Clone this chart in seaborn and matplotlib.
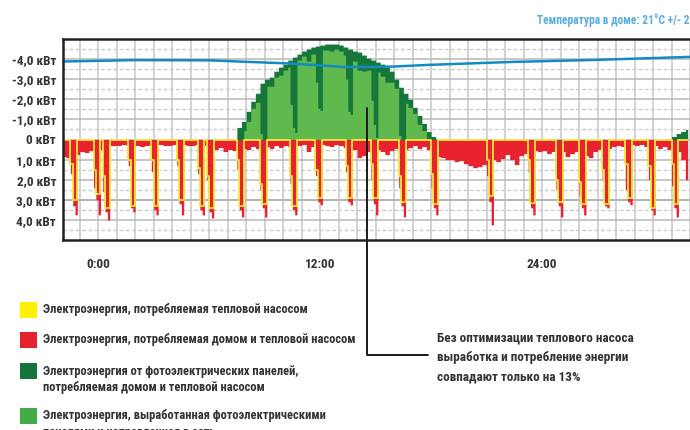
import numpy as np
import matplotlib
matplotlib.use("Agg")
import matplotlib.pyplot as plt
from matplotlib.lines import Line2D
from matplotlib.patches import Rectangle
from matplotlib import font_manager
import seaborn as sns

# ---- values ----
# house base load (kW), 15-minute steps from -2:00 to 32:00
base_load = [
    0.85, 0.90, 0.80, 0.75,   # -2h
    0.60, 0.65, 0.55, 0.60,   # -1h
    0.50, 0.35, 0.30, 0.30,   # 0h
    0.30, 0.25, 0.30, 0.35,
    0.30, 0.35, 0.30, 0.30,
    0.30, 0.25, 0.30, 0.30,
    0.25, 0.30, 0.25, 0.30,
    0.30, 0.25, 0.30, 0.30,
    0.35, 0.50, 0.40, 0.60,   # 6h
    0.50, 0.55, 0.40, 0.45,
    0.50, 0.35, 0.45, 0.30,
    0.35, 0.45, 0.30, 0.40,
    0.30, 0.35, 0.50, 0.30,
    0.25, 0.60, 0.35, 0.30,
    0.25, 0.30, 0.35, 0.25,   # 12h
    0.30, 0.40, 0.55, 0.50,
    0.90, 0.80, 0.60, 0.55,
    0.50, 0.60, 0.75, 0.55,
    0.45, 0.35, 0.50, 0.40,
    0.30, 0.45, 0.35, 0.50,
    0.75, 0.85, 0.90, 1.00,   # 18h
    1.00, 1.10, 1.05, 1.20,
    1.30, 1.40, 1.35, 1.25,
    1.15, 1.00, 1.10, 0.95,
    0.75, 1.00, 1.25, 0.80,
    0.70, 0.65, 0.55, 0.60,
    0.55, 0.70, 0.60, 0.80,   # 24h
    0.60, 0.85, 0.70, 0.60,
    0.55, 0.80, 0.90, 0.60,
    0.50, 0.40, 0.45, 0.35,
    0.30, 0.35, 0.30, 0.25,
    0.30, 0.25, 0.35, 0.30,
    0.30, 0.45, 0.35, 0.50,   # 30h
    0.55, 0.60, 1.00, 2.00,
]

# heat pump cycles: start hour, heat pump kW and house+pump kW (7.5-minute steps)
hp_events = [
    (-1.45, [1.2, 3.0, 3.0], [1.7, 3.3, 3.75]),
    (-0.20, [1.5, 2.7, 2.7], [2.4, 3.0, 3.75]),
    (0.25, [1.8, 3.4, 3.4], [2.6, 3.6, 4.00]),
    (1.60, [1.0, 3.3, 3.3], [1.3, 3.4, 3.60]),
    (2.90, [1.0, 3.3, 3.3], [1.6, 3.5, 3.75]),
    (4.20, [1.0, 3.0, 3.0], [1.3, 3.2, 3.75]),
    (5.35, [1.4, 3.3, 3.3], [1.7, 3.5, 3.75]),
    (5.85, [1.8, 3.4, 3.4], [2.0, 3.6, 3.90]),
    (7.45, [1.0, 3.3, 3.3], [1.5, 3.5, 3.85]),
    (8.80, [2.2, 3.2, 3.2], [2.5, 3.4, 3.85]),
    (10.40, [1.8, 3.3, 3.3], [2.2, 3.5, 3.75]),
    (11.80, [1.5, 2.9, 2.9], [1.8, 3.1, 3.25]),
    (13.35, [1.3, 2.9, 2.9], [1.6, 3.1, 3.25]),
    (14.75, [1.2, 2.9, 2.9], [2.0, 3.2, 3.75]),
    (16.30, [1.8, 3.1, 3.1], [2.4, 3.3, 3.85]),
    (17.95, [1.7, 3.2, 3.2], [2.4, 3.4, 3.75]),
    (20.95, [1.0, 2.8, 2.8], [1.8, 3.1, 4.25]),
    (23.25, [1.0, 3.15, 3.15], [1.6, 3.4, 3.75]),
    (24.75, [2.0, 3.1, 3.1], [2.5, 3.3, 3.85]),
    (26.00, [2.1, 3.2, 3.2], [2.8, 3.4, 3.75]),
    (27.25, [1.5, 3.2, 3.2], [2.0, 3.3, 3.40]),
    (28.55, [1.2, 2.9, 2.9], [2.5, 3.1, 3.25]),
    (29.75, [1.3, 3.4, 3.4], [2.0, 3.5, 3.75]),
    (31.05, [1.2, 3.2, 3.2], [2.3, 3.4, 3.85]),
]

# PV production (kW), 15-minute steps
pv_day1_start = 7.25
pv_day1 = [
    0.0, 0.6, 0.9, 1.4, 1.9, 2.3, 2.8, 3.0, 3.1, 3.4, 3.6, 3.75,
    3.95, 4.1, 4.25, 4.4, 4.5, 4.6, 4.65, 4.7, 4.75, 4.75, 4.75, 4.7,
    4.6, 4.5, 4.4, 4.35, 4.2, 4.05, 3.95, 3.85, 3.75, 3.6, 3.4, 3.0,
    2.6, 2.3, 2.0, 1.6, 1.2, 0.8, 0.4, 0.15, 0.0,
]
pv_day2_start = 31.0
pv_day2 = [0.15, 0.3, 0.4, 0.5]

# indoor temperature trace, drawn on the kW scale
temp_hours = [-1.9, 2.0, 6.0, 7.6, 10.4, 13.3, 14.4, 16.0, 17.8, 22.4, 26.9, 32.0]
temp_line = [-3.88, -3.95, -3.94, -3.88, -3.78, -3.61, -3.61, -3.63, -3.71, -3.86, -3.96, -4.11]

y_ticks = [-4, -3, -2, -1, 0, 1, 2, 3, 4]
y_labels = ["-4,0 кВт", "-3,0 кВт", "-2,0 кВт", "-1,0 кВт", "0 кВт",
            "1,0 кВт", "2,0 кВт", "3,0 кВт", "4,0 кВт"]
x_ticks = [0, 6, 12, 18, 24, 30]
x_labels = ["0:00", "", "12:00", "", "24:00", ""]

legend_items = [
    ("#fff200", ["Электроэнергия, потребляемая тепловой насосом"]),
    ("#e3222e", ["Электроэнергия, потребляемая домом и тепловой насосом"]),
    ("#13753a", ["Электроэнергия от фотоэлектрических панелей,",
                 "потребляемая домом и тепловой насосом"]),
    ("#43ac48", ["Электроэнергия, выработанная фотоэлектрическими",
                 "панелями и направленная в сеть"]),
]
note_lines = ["Без оптимизации теплового насоса",
              "выработка и потребление энергии",
              "совпадают только на 13%"]

# ---- build 7.5-minute series ----
step = 1 / 8
t = -2 + np.arange(len(base_load) * 2) * step
total = np.repeat(base_load, 2).astype(float)
hp = np.zeros_like(total)
for start, hp_vals, tot_vals in hp_events:
    i = int(round((start + 2) / step))
    hp[i:i + 3] = hp_vals
    total[i:i + 3] = tot_vals

pv = np.zeros_like(total)
for start, vals in [(pv_day1_start, pv_day1), (pv_day2_start, pv_day2)]:
    i = int(round((start + 2) / step))
    rep = np.repeat(vals, 2)
    pv[i:i + len(rep)] = rep[:len(pv) - i]
export = np.clip(pv - total, 0, None)

# ---- plot ----
sns.set_style("white")
installed = {f.name for f in font_manager.fontManager.ttflist}
FONT = [f for f in ["Roboto Condensed", "Liberation Sans Narrow", "Open Sans Condensed",
                    "Roboto", "DejaVu Sans"] if f in installed]
plt.rcParams["font.family"] = FONT
TXT = "#333333"

fig = plt.figure(figsize=(6.9, 4.3), dpi=100)
ax = fig.add_axes([63 / 690, 190 / 430, 627 / 690, 201 / 430])

ax.fill_between(t, 0, -pv, step="post", color="#17773b", lw=0)
ax.fill_between(t, 0, -export, step="post", color="#5fb94f", lw=0)
ax.fill_between(t, 0, total, step="post", color="#e8222f", lw=0)
sns.lineplot(x=t, y=hp, drawstyle="steps-post", color="#f2e93a", lw=1.3, ax=ax)
sns.lineplot(x=temp_hours, y=temp_line, color="#128bc4", lw=1.8, ax=ax)

ax.set_xlim(-1.9, 32.0)
ax.set_ylim(5, -5)
ax.set_xticks(x_ticks)
ax.set_xticklabels(x_labels)
ax.set_xticks(np.arange(-1, 33, 1), minor=True)
ax.set_yticks(y_ticks)
ax.set_yticklabels(y_labels)
ax.set_yticks(np.arange(-4.5, 5, 1), minor=True)
ax.set_axisbelow(True)
ax.grid(axis="x", which="both", color="#c6c6c6", lw=1.1)
ax.grid(axis="y", which="major", color="#b8b8b8", lw=1.1)
ax.grid(axis="y", which="minor", color="#c8c8c8", lw=0.9, ls=(0, (3, 2)))
ax.axhline(3, color="#8a8a8a", lw=1.1, zorder=0.5)

ax.tick_params(axis="y", which="both", length=0, pad=5, labelsize=9.5, labelcolor=TXT)
ax.tick_params(axis="x", which="major", length=5, width=1.2, color="#b0b0b0",
               pad=8, labelsize=9.5, labelcolor=TXT)
ax.tick_params(axis="x", which="minor", length=0)
for lab in ax.get_xticklabels() + ax.get_yticklabels():
    lab.set_fontweight("bold")

for side in ["left", "top", "bottom"]:
    ax.spines[side].set_color("#222222")
    ax.spines[side].set_linewidth(1.8)
ax.spines["right"].set_visible(False)

fig.text(537 / 690, 1 - 20 / 430, "Температура в доме: 21°C +/- 2°C",
         color="#5aaee2", fontsize=8.3, fontweight="bold", va="center", ha="left")

# legend
legend_y = [310, 340, 371, 416]
for (color, lines), y in zip(legend_items, legend_y):
    fig.add_artist(Rectangle((20 / 690, 1 - (y + 8) / 430), 17 / 690, 16 / 430,
                             transform=fig.transFigure, color=color, lw=0))
    for k, line in enumerate(lines):
        fig.text(43 / 690, 1 - (y + k * 16.7) / 430, line, color=TXT,
                 fontsize=9, fontweight="bold", va="center", ha="left")

# annotation
fig.add_artist(Line2D([367 / 690, 367 / 690, 428 / 690],
                      [1 - 108 / 430, 1 - 355 / 430, 1 - 355 / 430],
                      transform=fig.transFigure, color="#1a1a1a", lw=1.4))
for k, line in enumerate(note_lines):
    fig.text(437 / 690, 1 - (338 + k * 19.5) / 430, line, color=TXT,
             fontsize=9.5, fontweight="bold", va="center", ha="left")

fig.savefig("out.png", dpi=100)
